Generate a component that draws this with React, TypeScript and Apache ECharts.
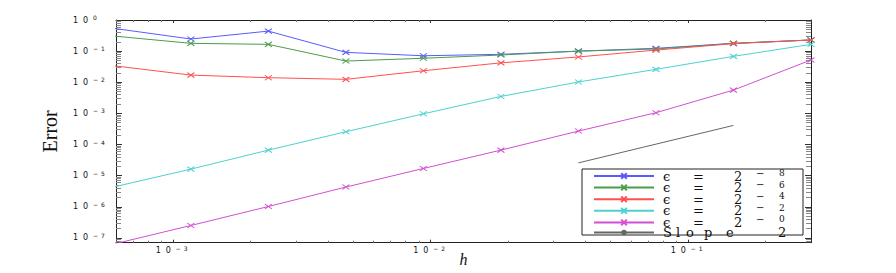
import React, { useEffect, useRef } from 'react';
import * as echarts from 'echarts';

// step sizes h (x axis)
const hValues = [0.0005859375, 0.001171875, 0.00234375, 0.0046875, 0.009375, 0.01875, 0.0375, 0.075, 0.15, 0.3];

// errors for each epsilon
const errEpsM8 = [0.54, 0.245, 0.44, 0.091, 0.071, 0.079, 0.1, 0.123, 0.178, 0.228];
const errEpsM6 = [0.306, 0.178, 0.165, 0.048, 0.059, 0.075, 0.1, 0.117, 0.178, 0.228];
const errEpsM4 = [0.034, 0.017, 0.014, 0.0124, 0.0234, 0.042, 0.065, 0.108, 0.174, 0.228];
const errEpsM2 = [4.3e-6, 1.62e-5, 6.6e-5, 2.57e-4, 9.7e-4, 3.5e-3, 0.0102, 0.026, 0.068, 0.165];
const errEps0 = [6.3e-8, 2.5e-7, 1.02e-6, 4.3e-6, 1.7e-5, 6.6e-5, 2.7e-4, 1.05e-3, 5.6e-3, 0.052];

// reference slope-2 line
const slopeH = [0.0375, 0.15];
const slopeErr = [2.57e-5, 4.11e-4];

const seriesNames = ['ϵ = 2^−8', 'ϵ = 2^−6', 'ϵ = 2^−4', 'ϵ = 2^−2', 'ϵ = 2^−0'];
const slopeName = 'Slope 2';
const colors = ['#5a5aff', '#4a9e4a', '#ff5050', '#4fd0d0', '#d24fd2'];
const slopeColor = '#666666';

const xMin = 6e-4;
const xMax = 0.3;
const yMin = 7e-8;
const yMax = 1;

const allErr = [errEpsM8, errEpsM6, errEpsM4, errEpsM2, errEps0];

function powLabel(v: number): string {
  const lg = Math.log10(v);
  const e = Math.round(lg);
  if (Math.abs(lg - e) > 1e-6) return '';
  const expStr = e < 0 ? `{m|−}{s|${-e}}` : `{s|${e}}`;
  return `{a|1}{a|0}${expStr}`;
}

const tickRich = {
  a: { width: 10, fontSize: 8, fontFamily: 'DejaVu Sans', lineHeight: 10, align: 'left', color: '#111' },
  m: { width: 8, fontSize: 6, fontFamily: 'DejaVu Sans', lineHeight: 4, padding: [0, 0, 5, 0], align: 'left', color: '#111' },
  s: { width: 7, fontSize: 6, fontFamily: 'DejaVu Sans', lineHeight: 4, padding: [0, 0, 5, 0], align: 'left', color: '#111' },
};

const serif = 'DejaVu Serif';
const legendRich = {
  eps: { width: 30, padding: [0, 0, 0, 4], fontSize: 13, lineHeight: 11.5, align: 'left', fontFamily: serif, color: '#111' },
  eq: { width: 41, fontSize: 13, lineHeight: 11.5, align: 'left', fontFamily: serif, color: '#111' },
  two: { width: 22, fontSize: 13, lineHeight: 11.5, align: 'left', fontFamily: serif, color: '#111' },
  mi: { width: 23, fontSize: 10, lineHeight: 5, padding: [0, 0, 6, 0], align: 'left', fontFamily: serif, color: '#111' },
  ex: { width: 14, fontSize: 9, lineHeight: 5, padding: [0, 0, 6, 0], align: 'left', fontFamily: serif, color: '#111' },
  S: { width: 13, padding: [0, 0, 0, 4], fontSize: 13, lineHeight: 11.5, align: 'left', fontFamily: serif, color: '#111' },
  l: { width: 10, fontSize: 13, lineHeight: 11.5, align: 'left', fontFamily: serif, color: '#111' },
  o: { width: 18, fontSize: 13, lineHeight: 11.5, align: 'left', fontFamily: serif, color: '#111' },
  p: { width: 22, fontSize: 13, lineHeight: 11.5, align: 'left', fontFamily: serif, color: '#111' },
  e: { width: 52, fontSize: 13, lineHeight: 11.5, align: 'left', fontFamily: serif, color: '#111' },
  t: { width: 15, fontSize: 13, lineHeight: 11.5, align: 'left', fontFamily: serif, color: '#111' },
};

function legendFormatter(name: string): string {
  if (name === slopeName) {
    return '{S|S}{l|l}{o|o}{p|p}{e|e}{t|2}';
  }
  const exp = name.split('^')[1] || '';
  const minus = exp.charAt(0);
  const digits = exp.slice(1);
  return `{eps|ϵ}{eq|=}{two|2}{mi|${minus}}{ex|${digits}}`;
}

const axisLineStyle = { color: '#222', width: 1 };

function makeXAxis(position: 'bottom' | 'top', main: boolean) {
  return {
    type: 'log',
    logBase: 10,
    position,
    min: xMin,
    max: xMax,
    splitNumber: 5,
    axisLine: { show: true, onZero: false, lineStyle: axisLineStyle },
    axisTick: { show: true, inside: true, length: 3, lineStyle: { color: '#333' } },
    minorTick: { show: true, splitNumber: 9, length: 2, lineStyle: { color: '#777' } },
    splitLine: { show: false },
    axisLabel: main
      ? { show: true, margin: 3, formatter: powLabel, rich: tickRich, showMinLabel: false, showMaxLabel: false, hideOverlap: false }
      : { show: false },
    name: main ? 'h' : '',
    nameLocation: 'middle',
    nameGap: 9,
    nameMoveOverlap: false,
    nameTextStyle: { fontFamily: 'Liberation Serif', fontStyle: 'italic', fontSize: 16, color: '#111' },
  };
}

function makeYAxis(position: 'left' | 'right', main: boolean) {
  return {
    type: 'log',
    logBase: 10,
    position,
    min: yMin,
    max: yMax,
    splitNumber: 8,
    axisLine: { show: true, onZero: false, lineStyle: axisLineStyle },
    axisTick: { show: true, inside: true, length: 6, lineStyle: { color: '#333' } },
    minorTick: { show: true, splitNumber: 9, length: 5, lineStyle: { color: '#888' } },
    splitLine: { show: false },
    axisLabel: main
      ? { show: true, margin: 43, align: 'left', formatter: powLabel, rich: tickRich, showMinLabel: false, showMaxLabel: true, hideOverlap: false }
      : { show: false },
    name: main ? 'Error' : '',
    nameLocation: 'middle',
    nameGap: 56,
    nameRotate: 90,
    nameMoveOverlap: false,
    nameTextStyle: { fontFamily: 'Liberation Serif', fontSize: 20, color: '#111' },
  };
}

export default function App() {
  const ref = useRef<HTMLDivElement>(null);
  useEffect(() => {
    if (!ref.current) return;
    const chart = echarts.init(ref.current, null, { renderer: 'svg' });
    const series: any[] = seriesNames.map((name, i) => ({
      name,
      type: 'line',
      xAxisIndex: 0,
      yAxisIndex: 0,
      data: hValues.map((h, j) => [h, allErr[i][j]]),
      symbol: 'path://M0,0L10,10M10,0L0,10',
      symbolSize: [7, 5],
      showSymbol: true,
      clip: true,
      lineStyle: { color: colors[i], width: 1 },
      itemStyle: { color: colors[i], borderColor: colors[i], borderWidth: 1 },
      emphasis: { disabled: true },
    }));
    series.push({
      name: slopeName,
      type: 'line',
      xAxisIndex: 0,
      yAxisIndex: 0,
      data: slopeH.map((h, j) => [h, slopeErr[j]]),
      symbol: 'none',
      clip: true,
      lineStyle: { color: slopeColor, width: 1 },
      itemStyle: { color: slopeColor },
      emphasis: { disabled: true },
    });

    chart.setOption({
      animation: false,
      backgroundColor: '#ffffff',
      grid: { left: 116, right: 85, top: 20, bottom: 30.3, containLabel: false, outerBoundsMode: 'none' },
      xAxis: [makeXAxis('bottom', true), makeXAxis('top', false)],
      yAxis: [makeYAxis('left', true), makeYAxis('right', false)],
      legend: {
        show: true,
        orient: 'vertical',
        left: 582,
        top: 169,
        padding: [-1, 10, -4, 11],
        itemGap: -4.4,
        itemWidth: 60,
        itemHeight: 7,
        selectedMode: false,
        borderColor: '#222',
        borderWidth: 1,
        backgroundColor: '#ffffff',
        data: [...seriesNames, slopeName],
        formatter: legendFormatter,
        textStyle: { fontFamily: serif, fontSize: 13, lineHeight: 11.5, color: '#111', rich: legendRich },
      },
      series,
    });
    return () => chart.dispose();
  }, []);
  return <div ref={ref} style={{ position: 'fixed', left: 0, top: 0, width: 896, height: 273 }} />;
}
